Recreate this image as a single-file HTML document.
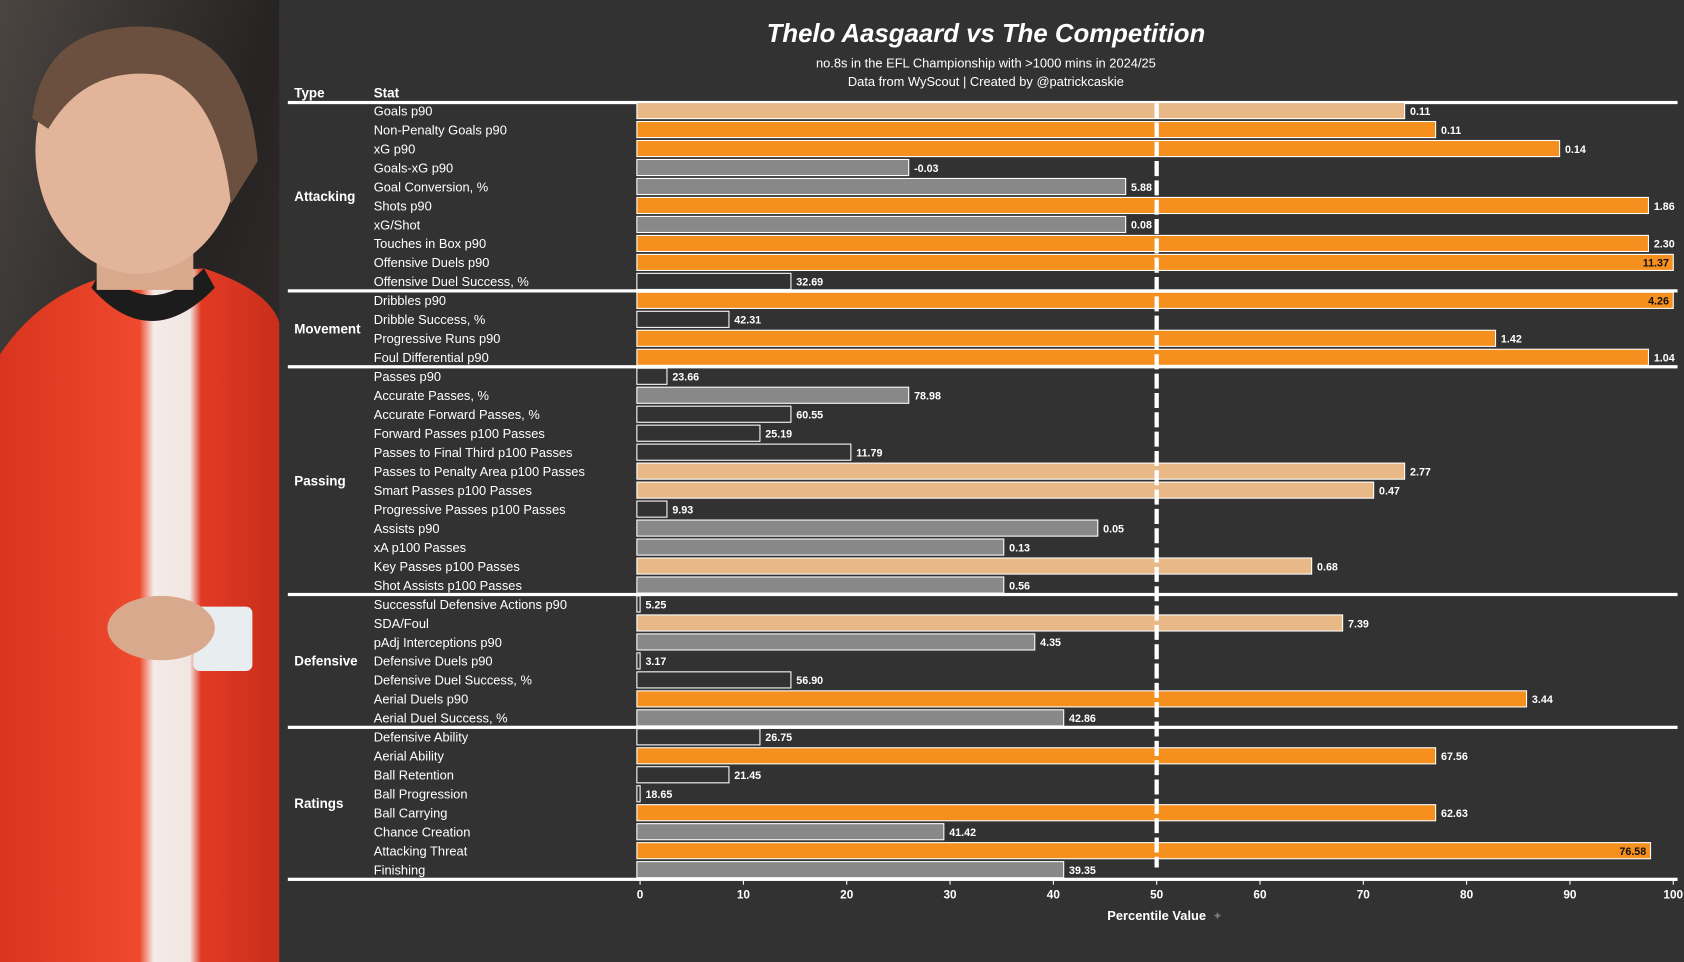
<!DOCTYPE html>
<html><head><meta charset="utf-8">
<style>
html,body{margin:0;padding:0;background:#323232;width:1684px;height:962px;overflow:hidden}
svg{display:block}
text{font-family:"Liberation Sans",sans-serif;fill:#fff}
</style></head>
<body>
<svg id="chart" width="1684" height="962" viewBox="0 0 1568 896" preserveAspectRatio="none" xmlns="http://www.w3.org/2000/svg">
  <rect x="0" y="0" width="1568" height="896" fill="#323232"/>
  <g>
    <defs>
      <linearGradient id="bgp" x1="0" y1="0" x2="1" y2="1">
        <stop offset="0" stop-color="#4a4541"/><stop offset="0.5" stop-color="#262322"/><stop offset="1" stop-color="#3a3634"/>
      </linearGradient>
      <linearGradient id="shirt" x1="0" y1="0" x2="1" y2="0">
        <stop offset="0" stop-color="#d8341f"/><stop offset="0.5" stop-color="#ef4a2e"/><stop offset="0.55" stop-color="#f4ece8"/><stop offset="0.68" stop-color="#f0e6e2"/><stop offset="0.72" stop-color="#e23a24"/><stop offset="1" stop-color="#c92e1c"/>
      </linearGradient>
    </defs>
    <rect x="0" y="0" width="260" height="896" fill="url(#bgp)"/>
    <path d="M0 330 Q40 270 110 255 L190 250 Q250 270 260 300 L260 896 L0 896 Z" fill="url(#shirt)"/>
    <path d="M95 250 Q140 300 190 250 L200 268 Q140 330 85 268 Z" fill="#1c1c1c"/>
    <rect x="90" y="180" width="90" height="90" fill="#d9a98e"/>
    <ellipse cx="128" cy="140" rx="95" ry="115" fill="#e2b59b"/>
    <path d="M30 110 Q40 20 140 25 Q230 30 240 150 L215 190 Q205 90 150 70 Q80 60 45 120 Z" fill="#6b5040"/>
    <rect x="180" y="565" width="55" height="60" rx="6" fill="#e8eef0"/>
    <ellipse cx="150" cy="585" rx="50" ry="30" fill="#d9a98e"/>
  </g>

  <text x="918" y="39" text-anchor="middle" font-size="24" font-weight="bold" font-style="italic">Thelo Aasgaard vs The Competition</text>
  <text x="918" y="63" text-anchor="middle" font-size="12">no.8s in the EFL Championship with &gt;1000 mins in 2024/25</text>
  <text x="918" y="80" text-anchor="middle" font-size="12">Data from WyScout | Created by @patrickcaskie</text>
  <text x="274" y="91" font-size="12.5" font-weight="bold">Type</text>
  <text x="348" y="91" font-size="12.5" font-weight="bold">Stat</text>
  <rect x="268" y="94" width="1294" height="3" fill="#fff"/>
  <g id="rows"></g>
  <g id="axis"></g>
</svg>
<script>
const stats = ["Goals p90","Non-Penalty Goals p90","xG p90","Goals-xG p90","Goal Conversion, %","Shots p90","xG/Shot","Touches in Box p90","Offensive Duels p90","Offensive Duel Success, %",
"Dribbles p90","Dribble Success, %","Progressive Runs p90","Foul Differential p90",
"Passes p90","Accurate Passes, %","Accurate Forward Passes, %","Forward Passes p100 Passes","Passes to Final Third p100 Passes","Passes to Penalty Area p100 Passes","Smart Passes p100 Passes","Progressive Passes p100 Passes","Assists p90","xA p100 Passes","Key Passes p100 Passes","Shot Assists p100 Passes",
"Successful Defensive Actions p90","SDA/Foul","pAdj Interceptions p90","Defensive Duels p90","Defensive Duel Success, %","Aerial Duels p90","Aerial Duel Success, %",
"Defensive Ability","Aerial Ability","Ball Retention","Ball Progression","Ball Carrying","Chance Creation","Attacking Threat","Finishing"];
const groups = ["Attacking","Attacking","Attacking","Attacking","Attacking","Attacking","Attacking","Attacking","Attacking","Attacking",
"Movement","Movement","Movement","Movement",
"Passing","Passing","Passing","Passing","Passing","Passing","Passing","Passing","Passing","Passing","Passing","Passing",
"Defensive","Defensive","Defensive","Defensive","Defensive","Defensive","Defensive",
"Ratings","Ratings","Ratings","Ratings","Ratings","Ratings","Ratings","Ratings"];
const percentiles = [74,77,89,26,47,97.6,47,97.6,100,14.6,
100,8.6,82.8,97.6,
2.6,26,14.6,11.6,20.4,74,71,2.6,44.3,35.2,65,35.2,
0,68,38.2,0,14.6,85.8,41,
11.6,77,8.6,0,77,29.4,97.8,41];
const rawValues = ["0.11","0.11","0.14","-0.03","5.88","1.86","0.08","2.30","11.37","32.69",
"4.26","42.31","1.42","1.04",
"23.66","78.98","60.55","25.19","11.79","2.77","0.47","9.93","0.05","0.13","0.68","0.56",
"5.25","7.39","4.35","3.17","56.90","3.44","42.86",
"26.75","67.56","21.45","18.65","62.63","41.42","76.58","39.35"];
const ticks = [0,10,20,30,40,50,60,70,80,90,100];

const NS="http://www.w3.org/2000/svg";
const x0=596, x1=1558, yFirst=103, rowStep=17.675, barH=15;
const xs = v => x0 + (x1-x0)*v/100;
const ys = i => yFirst + i*rowStep;
function mk(tag, attrs, parent){const e=document.createElementNS(NS,tag);for(const k in attrs)e.setAttribute(k,attrs[k]);parent.appendChild(e);return e;}
function colorFor(v){ if(v<25) return "#323232"; if(v<50) return "#888888"; if(v<75) return "#e8b886"; return "#f5901e"; }
const rows=document.getElementById('rows');
stats.forEach((s,i)=>{
  const y=ys(i), v=percentiles[i];
  const bar=mk('rect',{x:x0-3,y:y-barH/2,width:Math.max(0,xs(v)-x0+3),height:barH,fill:colorFor(v),stroke:'#fff','stroke-width':1},rows);
  
  
  const lab=mk('text',{x:348,y:y+4.5,'font-size':12},rows);
  lab.textContent=s;
  
  
  const inside = v>=97.75;
  const vl=mk('text',{x: inside? xs(v)-4 : xs(v)+5, y:y+4,'font-size':10,'font-weight':'bold','text-anchor': inside?'end':'start'},rows);
  if(inside) vl.setAttribute('style','fill:#111');
  vl.textContent=rawValues[i];
  
  
});
const gnames=[...new Set(groups)];
gnames.forEach((g,gi)=>{
  const idx=groups.map((x,i)=>x===g?i:-1).filter(i=>i>=0);
  const first=idx[0], last=idx[idx.length-1];
  const t=mk('text',{x:274,y:(ys(first)+ys(last))/2+4.5,'font-size':12.5,'font-weight':'bold'},rows);
  t.textContent=g;
  
  
  const sy = gi<gnames.length-1 ? (ys(last)+ys(last+1))/2 : ys(last)+9;
  const r=mk('rect',{x:268,y:sy-1.5,width:1294,height:3,fill:'#fff'},rows);
  
  
});
const dl=mk('line',{x1:xs(50),x2:xs(50),y1:96,y2:808,stroke:'#fff','stroke-width':4,'stroke-dasharray':'14 4'},rows);


const ax=document.getElementById('axis');
const axisY=ys(stats.length-1)+9;
ticks.forEach(t=>{
  const tk=mk('line',{x1:xs(t),x2:xs(t),y1:axisY,y2:axisY+5,stroke:'#fff','stroke-width':1},ax);
  
  
  const tl=mk('text',{x:xs(t),y:axisY+18,'font-size':11,'font-weight':'bold','text-anchor':'middle'},ax);
  tl.textContent=t;
  
  
});
const at=mk('text',{x:xs(50),y:axisY+38,'font-size':12,'font-weight':'bold','text-anchor':'middle'},ax);
at.textContent='Percentile Value';


const pin=mk('text',{x:xs(50)+52,y:axisY+38,'font-size':11,'text-anchor':'start',style:'fill:#777'},ax);
pin.textContent='✦';


</script>
</body></html>
